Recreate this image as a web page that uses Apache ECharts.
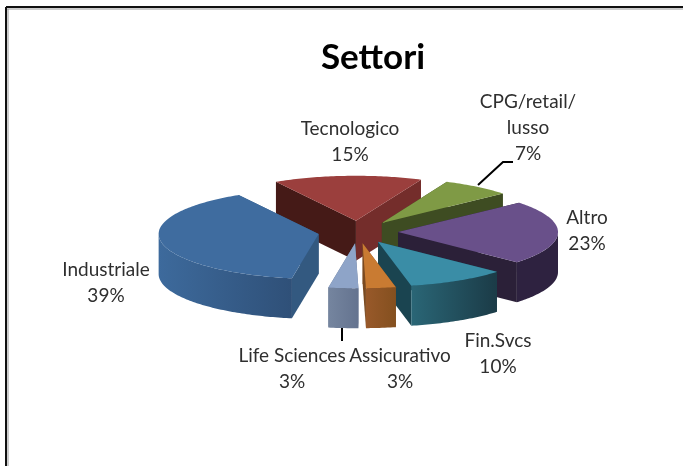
<!DOCTYPE html>
<html>
<head>
<meta charset="utf-8">
<title>Settori</title>
<script src="https://cdn.jsdelivr.net/npm/echarts@6/dist/echarts.min.js"></script>
<style>
    html, body { margin: 0; padding: 0; background: #fff; }
    #main { width: 683px; height: 466px; }
</style>
</head>
<body>
<div id="main"></div>
<script>
    // dati del grafico
    var sectors = ['Tecnologico', 'CPG/retail/\nlusso', 'Altro', 'Fin.Svcs', 'Assicurativo', 'Life Sciences', 'Industriale'];
    var shares = [15, 7, 23, 10, 3, 3, 39];

    // colori: piano superiore, parete esterna (sinistra, destra), pareti radiali (inizio, fine)
    var topColors = ['#9B3F3D', '#7F9A45', '#69508A', '#3A8DA6', '#C97B32', '#8EA4C8', '#3F6C9F'];
    var rimColors = [['#5a2422', '#5a2422'], ['#3E4C22', '#3E4C22'], ['#2E2240', '#2E2240'], ['#2A6676', '#1B3B47'], ['#98592A', '#84501F'], ['#75859F', '#64738F'], ['#3D6A9C', '#2F5078']];
    var wallColors = [['#451A17', '#742D2B'], ['#3E4C22', '#3E4C22'], ['#2B2038', '#2B2038'], ['#1A4450', '#1A4450'], ['#7a4a20', '#7a4a20'], ['#64738F', '#64738F'], ['#335980', '#335980']];

    // posizione delle etichette e ordine di disegno (dal fondo verso chi guarda)
    var labelPos = [[350, 142], [528, 128], [587, 231], [498, 354], [400, 369], [292, 369], [106, 283]];
    var drawOrder = [0, 1, 2, 6, 3, 5, 4];

    var cx = 358, cy = 232, rx = 160, ry = 45, depth = 40, explode = 40, startAngle = 330;

    function rad(a) { return a * Math.PI / 180; }

    function rimPoint(ox, oy, a, dy) {
        return [ox + rx * Math.sin(rad(a)), oy - ry * Math.cos(rad(a)) + dy];
    }

    function renderSlice(params, api) {
        var i = drawOrder[params.dataIndex];
        var total = shares.reduce(function (s, v) { return s + v; }, 0);
        var before = 0;
        for (var k = 0; k < i; k++) before += shares[k];
        var a0 = startAngle + before / total * 360;
        var a1 = a0 + shares[i] / total * 360;
        var mid = (a0 + a1) / 2;
        var ox = cx + explode * Math.sin(rad(mid));
        var oy = cy - explode * ry / rx * Math.cos(rad(mid));
        var z = params.dataIndex * 10;
        var children = [];

        function wall(a, color, zz) {
            var p = rimPoint(ox, oy, a, 0), q = rimPoint(ox, oy, a, depth);
            children.push({
                type: 'polygon', z2: z + zz,
                shape: { points: [[ox, oy], p, q, [ox, oy + depth]] },
                style: { fill: color }
            });
        }
        // la parete piu vicina a chi guarda va sopra
        var startFront = Math.cos(rad(a0)) < Math.cos(rad(a1));
        wall(a0, wallColors[i][0], startFront ? 2 : 1);
        wall(a1, wallColors[i][1], startFront ? 1 : 2);

        // parete esterna: solo la parte anteriore dell'ellisse
        var shift = a0 >= 360 ? 360 : 0;
        var low = Math.max(a0 - shift, 90);
        var high = Math.min(a1 - shift, 270);
        if (high > low) {
            var rim = [], rimBottom = [];
            for (var a = low; a <= high; a += 1) {
                rim.push(rimPoint(ox, oy, a, 0));
                rimBottom.unshift(rimPoint(ox, oy, a, depth));
            }
            rim.push(rimPoint(ox, oy, high, 0));
            rimBottom.unshift(rimPoint(ox, oy, high, depth));
            children.push({
                type: 'polygon', z2: z + 3,
                shape: { points: rim.concat(rimBottom) },
                style: {
                    fill: new echarts.graphic.LinearGradient(0, 0, 1, 0, [
                        { offset: 0, color: rimColors[i][0] },
                        { offset: 1, color: rimColors[i][1] }
                    ])
                }
            });
        }

        // piano superiore
        var top = [[ox, oy]];
        for (var b = a0; b < a1; b += 1) top.push(rimPoint(ox, oy, b, 0));
        top.push(rimPoint(ox, oy, a1, 0));
        children.push({
            type: 'polygon', z2: z + 4,
            shape: { points: top },
            style: { fill: topColors[i] }
        });

        // etichetta
        children.push({
            type: 'text', z2: 200,
            style: {
                x: labelPos[i][0], y: labelPos[i][1],
                text: sectors[i] + '\n' + shares[i] + '%',
                fill: '#2f2f2f',
                font: '19px Lato',
                lineHeight: 26,
                align: 'center',
                verticalAlign: 'middle'
            }
        });
        return { type: 'group', children: children };
    }

    var myChart = echarts.init(document.getElementById('main'));

    var option = {
        animation: false,
        backgroundColor: '#fff',
        title: {
            text: 'Settori',
            left: 368,
            top: 35,
            textAlign: 'center',
            textStyle: { fontFamily: 'Lato', fontWeight: 'bold', fontSize: 35, color: '#000' }
        },
        series: [
            {
                type: 'custom',
                coordinateSystem: 'none',
                data: drawOrder.map(function (i) { return shares[i]; }),
                renderItem: renderSlice,
                silent: true,
                clip: false
            }
        ],
        graphic: [
            // cornice
            { type: 'line', shape: { x1: 6, y1: 7, x2: 683, y2: 7 }, style: { stroke: '#111', lineWidth: 2 } },
            { type: 'line', shape: { x1: 6, y1: 7, x2: 6, y2: 466 }, style: { stroke: '#111', lineWidth: 2 } },
            { type: 'line', shape: { x1: 7, y1: 9, x2: 683, y2: 9 }, style: { stroke: '#999', lineWidth: 1 } },
            { type: 'line', shape: { x1: 8, y1: 9, x2: 8, y2: 466 }, style: { stroke: '#999', lineWidth: 1 } },
            // linee guida
            { type: 'polyline', z: 10, shape: { points: [[478, 185], [503, 162], [513, 162]] }, style: { stroke: '#000', lineWidth: 2, fill: 'none' } },
            { type: 'line', z: 10, shape: { x1: 342, y1: 328, x2: 342, y2: 341 }, style: { stroke: '#000', lineWidth: 2 } }
        ]
    };

    myChart.setOption(option);
</script>
</body>
</html>
